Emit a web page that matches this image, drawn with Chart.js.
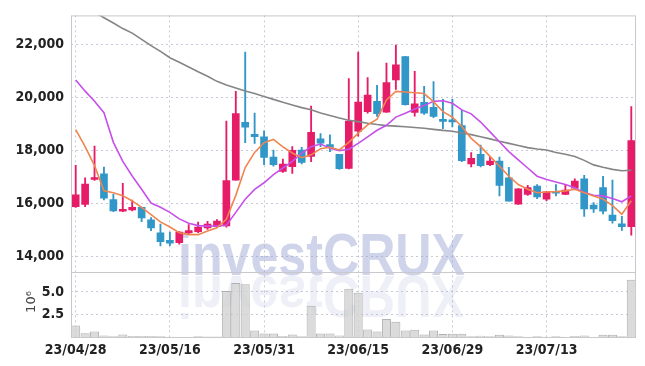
<!DOCTYPE html>
<html>
<head>
<meta charset="utf-8">
<script src="https://cdn.jsdelivr.net/npm/chart.js@4.4.0/dist/chart.umd.min.js"></script>
<style>
    html, body { margin: 0; padding: 0; background: #fff; }
    #wrap { width: 645px; height: 366px; }
</style>
</head>
<body>
<div id="wrap"><canvas id="chart" width="645" height="366"></canvas></div>
<script>
var dates = [
    '23/04/28', '23/05/02', '23/05/03', '23/05/04', '23/05/08', '23/05/09', '23/05/10', '23/05/11', '23/05/12', '23/05/15',
    '23/05/16', '23/05/17', '23/05/18', '23/05/19', '23/05/22', '23/05/23', '23/05/24', '23/05/25', '23/05/26', '23/05/30',
    '23/05/31', '23/06/01', '23/06/02', '23/06/05', '23/06/07', '23/06/08', '23/06/09', '23/06/12', '23/06/13', '23/06/14',
    '23/06/15', '23/06/16', '23/06/19', '23/06/20', '23/06/21', '23/06/22', '23/06/23', '23/06/26', '23/06/27', '23/06/28',
    '23/06/29', '23/06/30', '23/07/03', '23/07/04', '23/07/05', '23/07/06', '23/07/07', '23/07/10', '23/07/11', '23/07/12',
    '23/07/13', '23/07/14', '23/07/17', '23/07/18', '23/07/19', '23/07/20', '23/07/21', '23/07/24', '23/07/25', '23/07/26'
];

var opens = [
    15870, 15960, 16900, 17110, 16140, 15700, 15750, 15850, 15380, 14890,
    14600, 14520, 14880, 14930, 15070, 15120, 15150, 16870, 19050, 18600,
    18510, 17740, 17200, 17380, 18010, 17770, 18430, 18220, 17850, 17320,
    18720, 19460, 19850, 19440, 20650, 21530, 19430, 19810, 19620, 19130,
    19100, 18930, 17490, 17850, 17460, 17590, 16960, 15970, 16340, 16650,
    16160, 16440, 16340, 16570, 16920, 15930, 16590, 15560, 15230, 15120
];
var highs = [
    17430, 16960, 18160, 17370, 16340, 16750, 16120, 15850, 15460, 15220,
    14920, 14930, 15200, 15290, 15320, 15390, 19100, 20220, 21700, 19400,
    18730, 18010, 17670, 18140, 18110, 19670, 18630, 18580, 17850, 20700,
    21700, 20740, 20450, 21290, 21970, 21540, 20980, 20410, 20590, 19920,
    19930, 19520, 17910, 18200, 17740, 17740, 17360, 16560, 16680, 16710,
    16430, 16710, 16710, 16920, 17060, 16030, 17020, 16880, 15510, 19650
];
var lows = [
    15850, 15870, 16860, 16130, 15690, 15690, 15710, 15310, 14970, 14390,
    14400, 14460, 14820, 14890, 15020, 15090, 15100, 16870, 18290, 18260,
    17460, 17400, 17170, 17130, 17490, 17570, 18140, 17950, 17280, 17300,
    18530, 19400, 19280, 19430, 20300, 19700, 19290, 19350, 19230, 18820,
    18880, 17570, 17370, 17370, 17420, 16280, 16080, 15960, 16300, 16180,
    16100, 16280, 16330, 16530, 15510, 15660, 15600, 15250, 14980, 14800
];
var closes = [
    16320, 16730, 16970, 16190, 15710, 15750, 15850, 15450, 15070, 14550,
    14500, 14920, 14970, 15100, 15220, 15330, 16860, 19380, 18870, 18510,
    17730, 17460, 17480, 18000, 17540, 18680, 18270, 18110, 17310, 19100,
    19820, 20080, 19380, 20550, 21220, 19720, 19750, 19400, 19280, 19090,
    19070, 17610, 17700, 17420, 17590, 16680, 16080, 16550, 16590, 16240,
    16430, 16380, 16500, 16840, 15790, 15790, 15700, 15350, 15120, 18370
];

// moving averages
var maShort = [
    18780, 18140, 17420, 16470, 16400, 16290, 16090, 15850, 15570, 15300,
    15105, 14894, 14820, 14820, 14960, 15080, 15400, 16300, 17350, 17920,
    18290, 18410, 18130, 17900, 17720, 17830, 18060, 18112, 18013, 18300,
    18650, 18960, 19170, 19900, 20220, 20200, 20170, 20140, 19830, 19460,
    19250, 18900, 18450, 18140, 17770, 17400, 17020, 16710, 16530, 16400,
    16430, 16440, 16470, 16530, 16400, 16280, 16160, 15910, 15590, 16100
];
var maMid = [
    20650, 20230, 19850, 19420, 18300, 17580, 17030, 16530, 16010, 15850,
    15660, 15414, 15250, 15160, 15140, 15150, 15170, 15660, 16157, 16528,
    16776, 17085, 17333, 17580, 17890, 18137, 18236, 18075, 17989, 18038,
    18261, 18509, 18756, 18942, 19251, 19400, 19561, 19685, 19845, 19870,
    19771, 19524, 19375, 19066, 18694, 18323, 17952, 17642, 17333, 17024,
    16900, 16801, 16714, 16590, 16405, 16306, 16281, 16182, 16058, 16281
];
var maLong = [
    23600, 23410, 23210, 23000, 22800, 22590, 22420, 22180, 21950, 21730,
    21490, 21320, 21140, 20960, 20790, 20600, 20460, 20350, 20240, 20140,
    20030, 19920, 19810, 19710, 19610, 19530, 19410, 19310, 19220, 19130,
    19080, 19020, 18970, 18930, 18910, 18890, 18860, 18830, 18790, 18750,
    18720, 18650, 18590, 18510, 18430, 18340, 18260, 18180, 18100, 18050,
    18010, 17915, 17850, 17770, 17620, 17450, 17360, 17280, 17230, 17250
];

// volume in millions of shares
var volumes = [
    1.27, 0.42, 0.60, 0.17, 0.08, 0.27, 0.10, 0.10, 0.10, 0.08,
    0.04, 0.03, 0.03, 0.08, 0.05, 0.05, 5.10, 6.00, 5.85, 0.71,
    0.40, 0.40, 0.12, 0.29, 0.08, 3.47, 0.40, 0.40, 0.18, 5.36,
    4.90, 0.83, 0.62, 2.00, 1.70, 0.72, 0.80, 0.29, 0.72, 0.33,
    0.36, 0.36, 0.07, 0.14, 0.07, 0.25, 0.18, 0.07, 0.04, 0.07,
    0.04, 0.07, 0.04, 0.11, 0.18, 0.04, 0.25, 0.25, 0.07, 6.34
];

var priceTicks = [14000, 16000, 18000, 20000, 22000];
var volumeTicks = [2.5, 5.0];

var UP = '#e61c68';
var DOWN = '#3196c8';
var GRID = 'rgba(175,178,200,0.7)';
var tickFont = { family: "'Liberation Sans Narrow', 'DejaVu Sans Condensed', sans-serif", size: 14, weight: 'bold' };

var candleColors = [];
for (var i = 0; i < opens.length; i++) {
    candleColors.push(closes[i] >= opens[i] ? UP : DOWN);
}

var wickData = lows.map(function (l, i) { return [l, highs[i]]; });
var bodyData = opens.map(function (o, i) { return [o, closes[i]]; });

var chartDecor = {
    id: 'chartDecor',
    beforeDatasetsDraw: function (chart) {
        var ctx = chart.ctx;
        var text = 'investCRUX';
        var left = 178, width = 287, base = 275;
        ctx.save();
        ctx.font = 'bold 60px "Liberation Sans", sans-serif';
        ctx.textBaseline = 'alphabetic';
        var sx = width / ctx.measureText(text).width;

        ctx.save();
        ctx.translate(left, base);
        ctx.scale(sx, 1);
        ctx.fillStyle = 'rgba(150,160,208,0.45)';
        ctx.fillText(text, 0, 0);
        ctx.restore();

        // mirrored copy below the baseline
        ctx.save();
        ctx.translate(left, base + 1);
        ctx.scale(sx, -1);
        var g = ctx.createLinearGradient(0, 0, 0, 48);
        g.addColorStop(0, 'rgba(170,176,215,0.2)');
        g.addColorStop(1, 'rgba(170,176,215,0.08)');
        ctx.fillStyle = g;
        ctx.fillText(text, 0, 0);
        ctx.restore();
        ctx.restore();
    },
    afterDraw: function (chart) {
        var ctx = chart.ctx;
        var a = chart.chartArea;
        var v = chart.scales.v;
        ctx.save();
        ctx.strokeStyle = 'rgba(200,200,205,1)';
        ctx.lineWidth = 1;
        ctx.strokeRect(a.left + 0.5, a.top + 0.5, a.right - a.left - 1, a.bottom - a.top);
        ctx.beginPath();
        ctx.moveTo(a.left, Math.round(v.top) + 0.5);
        ctx.lineTo(a.right, Math.round(v.top) + 0.5);
        ctx.stroke();

        ctx.translate(32, 302);
        ctx.rotate(-Math.PI / 2);
        ctx.fillStyle = '#444';
        ctx.font = '13px "DejaVu Sans", sans-serif';
        ctx.textAlign = 'center';
        ctx.textBaseline = 'middle';
        ctx.fillText('10\u2076', 0, 0);
        ctx.restore();
    }
};

new Chart(document.getElementById('chart').getContext('2d'), {
    type: 'bar',
    data: {
        labels: dates,
        datasets: [
            { type: 'line', data: maShort, yAxisID: 'y', borderColor: '#ef8550', borderWidth: 1.6, pointRadius: 0, order: 0 },
            { type: 'line', data: maMid, yAxisID: 'y', borderColor: '#c650ea', borderWidth: 1.6, pointRadius: 0, order: 0 },
            { type: 'line', data: maLong, yAxisID: 'y', borderColor: '#858585', borderWidth: 1.6, pointRadius: 0, order: 0 },
            { data: bodyData, yAxisID: 'y', backgroundColor: candleColors, barThickness: 7, minBarLength: 2, grouped: false, order: 1 },
            { data: wickData, yAxisID: 'y', backgroundColor: candleColors, barThickness: 1.2, grouped: false, order: 2 },
            {
                data: volumes, yAxisID: 'v', backgroundColor: 'rgba(210,210,210,0.8)', borderColor: 'rgba(170,170,170,0.9)',
                borderWidth: 1, barPercentage: 0.96, categoryPercentage: 1, grouped: false, order: 3
            }
        ]
    },
    options: {
        responsive: false,
        animation: false,
        layout: { padding: { top: 10, right: 9, left: 0, bottom: 0 } },
        plugins: { legend: { display: false }, tooltip: { enabled: false } },
        scales: {
            x: {
                offset: true,
                grid: {
                    offset: false,
                    drawTicks: false,
                    color: function (c) { return c.index % 10 === 0 ? GRID : 'transparent'; }
                },
                border: { display: false, dash: [2, 3] },
                ticks: {
                    autoSkip: false, maxRotation: 0, padding: 5, color: '#222', font: tickFont,
                    callback: function (val, i) { return i % 10 === 0 ? dates[i] : ''; }
                },
                afterFit: function (s) { s.height = 29; }
            },
            // volume panel listed first so the price panel is stacked above it
            v: {
                position: 'left',
                stack: 'panels',
                stackWeight: 66,
                min: 0,
                max: 7.2,
                afterBuildTicks: function (s) { s.ticks = volumeTicks.map(function (t) { return { value: t }; }); },
                grid: { color: GRID, drawTicks: false },
                border: { display: false, dash: [2, 3] },
                ticks: {
                    padding: 7, color: '#222', font: tickFont,
                    callback: function (val) { return val.toFixed(1); }
                },
                afterFit: function (s) { s.width = 71; }
            },
            y: {
                position: 'left',
                stack: 'panels',
                stackWeight: 261,
                min: 13407,
                max: 23087,
                afterBuildTicks: function (s) { s.ticks = priceTicks.map(function (t) { return { value: t }; }); },
                grid: { color: GRID, drawTicks: false },
                border: { display: false, dash: [2, 3] },
                ticks: {
                    padding: 7, color: '#222', font: tickFont,
                    callback: function (val) { return val.toLocaleString('en-US'); }
                },
                afterFit: function (s) { s.width = 71; }
            }
        }
    },
    plugins: [chartDecor]
});
</script>
</body>
</html>
